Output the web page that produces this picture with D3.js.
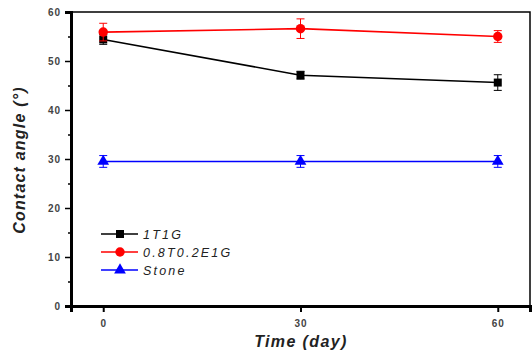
<!DOCTYPE html>
<html><head><meta charset="utf-8">
<script src="https://cdn.jsdelivr.net/npm/d3@7"></script>
<style>body{margin:0;background:#fff}</style>
</head><body>
<svg id="c" width="532" height="355"></svg>
<script>
const days = [0, 30, 60];
const seriesNames = ["1T1G", "0.8T0.2E1G", "Stone"];
const v1T1G = [54.4, 47.1, 45.6];
const e1T1G = [1.0, 0.8, 1.6];
const v08T = [55.9, 56.6, 55.0];
const e08T = [1.8, 2.0, 1.2];
const vStone = [29.5, 29.5, 29.5];
const eStone = [1.2, 1.2, 1.2];
const yTicks = [0, 10, 20, 30, 40, 50, 60];
const xTicks = [0, 30, 60];

const series = [
  {name: seriesNames[0], vals: v1T1G, errs: e1T1G, color: "#000000", sym: d3.symbolSquare, size: 64},
  {name: seriesNames[1], vals: v08T, errs: e08T, color: "#ff0000", sym: d3.symbolCircle, size: 70},
  {name: seriesNames[2], vals: vStone, errs: eStone, color: "#0000ff", sym: d3.symbolTriangle, size: 60}
];

const svg = d3.select("#c");
const L = 71, R = 530, T = 12, B = 306;
const x = d3.scaleLinear().domain([-4.9, 64.9]).range([L, R]);
const y = d3.scaleLinear().domain([0, 60]).range([B, T]);
const font = "Arial, 'Liberation Sans', sans-serif";

// frame
svg.append("rect").attr("x", L).attr("y", T).attr("width", R - L).attr("height", B - T)
  .attr("fill", "none").attr("stroke", "#000").attr("stroke-width", 1.5);

// y axis
const yAx = svg.append("g").attr("transform", `translate(${L},0)`)
  .call(d3.axisLeft(y).tickValues(yTicks).tickSize(6).tickPadding(4).tickFormat(d3.format("d")));
yAx.select(".domain").attr("stroke-width", 3);
yAx.selectAll(".tick line").attr("stroke-width", 1.5);
yAx.selectAll("text").attr("font-family", font).attr("font-size", 10).attr("font-weight", "bold")
  .attr("fill", "#444").attr("letter-spacing", 1);
const yMinor = svg.append("g").attr("transform", `translate(${L},0)`)
  .call(d3.axisLeft(y).tickValues([5, 15, 25, 35, 45, 55]).tickSize(3).tickFormat(""));
yMinor.select(".domain").remove();
yMinor.selectAll(".tick line").attr("stroke-width", 1.5);

// x axis
const xAx = svg.append("g").attr("transform", `translate(0,${B})`)
  .call(d3.axisBottom(x).tickValues(xTicks).tickSize(6).tickPadding(8).tickFormat(d3.format("d")));
xAx.select(".domain").attr("stroke-width", 3);
xAx.selectAll(".tick line").attr("stroke-width", 2);
xAx.selectAll("text").attr("font-family", font).attr("font-size", 10).attr("font-weight", "bold")
  .attr("fill", "#444").attr("letter-spacing", 1);

// titles
svg.append("text").attr("x", 301).attr("y", 347).attr("text-anchor", "middle")
  .attr("font-family", font).attr("font-size", 16).attr("font-weight", "bold").attr("font-style", "italic")
  .attr("letter-spacing", 1.4).attr("fill", "#222").text("Time (day)");
svg.append("text").attr("transform", "translate(25,160) rotate(-90)").attr("text-anchor", "middle")
  .attr("font-family", font).attr("font-size", 16).attr("font-weight", "bold").attr("font-style", "italic")
  .attr("letter-spacing", 1.2).attr("fill", "#222").text("Contact angle (°)");

// series
series.forEach(s => {
  const pts = days.map((d, i) => ({d, v: s.vals[i], e: s.errs[i]}));
  svg.append("path").datum(pts)
    .attr("d", d3.line().x(p => x(p.d)).y(p => y(p.v)))
    .attr("fill", "none").attr("stroke", s.color).attr("stroke-width", 1.6);
  const g = svg.append("g");
  pts.forEach(p => {
    g.append("line").attr("x1", x(p.d)).attr("x2", x(p.d)).attr("y1", y(p.v + p.e)).attr("y2", y(p.v - p.e))
      .attr("stroke", s.color).attr("stroke-width", 1);
    [p.v + p.e, p.v - p.e].forEach(v => g.append("line").attr("x1", x(p.d) - 4).attr("x2", x(p.d) + 4)
      .attr("y1", y(v)).attr("y2", y(v)).attr("stroke", s.color).attr("stroke-width", 1));
    g.append("path").attr("d", d3.symbol(s.sym, s.size)())
      .attr("transform", `translate(${x(p.d)},${y(p.v)})`).attr("fill", s.color);
  });
});

// legend
series.forEach((s, i) => {
  const ly = 234 + i * 18;
  svg.append("line").attr("x1", 101).attr("x2", 138).attr("y1", ly).attr("y2", ly)
    .attr("stroke", s.color).attr("stroke-width", 1.6);
  svg.append("path").attr("d", d3.symbol(s.sym, s.size)()).attr("transform", `translate(120,${ly})`).attr("fill", s.color);
  svg.append("text").attr("x", 143).attr("y", ly + 4.5).attr("font-family", font).attr("font-size", 12.5)
    .attr("font-style", "italic").attr("fill", "#222").attr("letter-spacing", 2.2).text(s.name);
});
</script>
</body></html>
